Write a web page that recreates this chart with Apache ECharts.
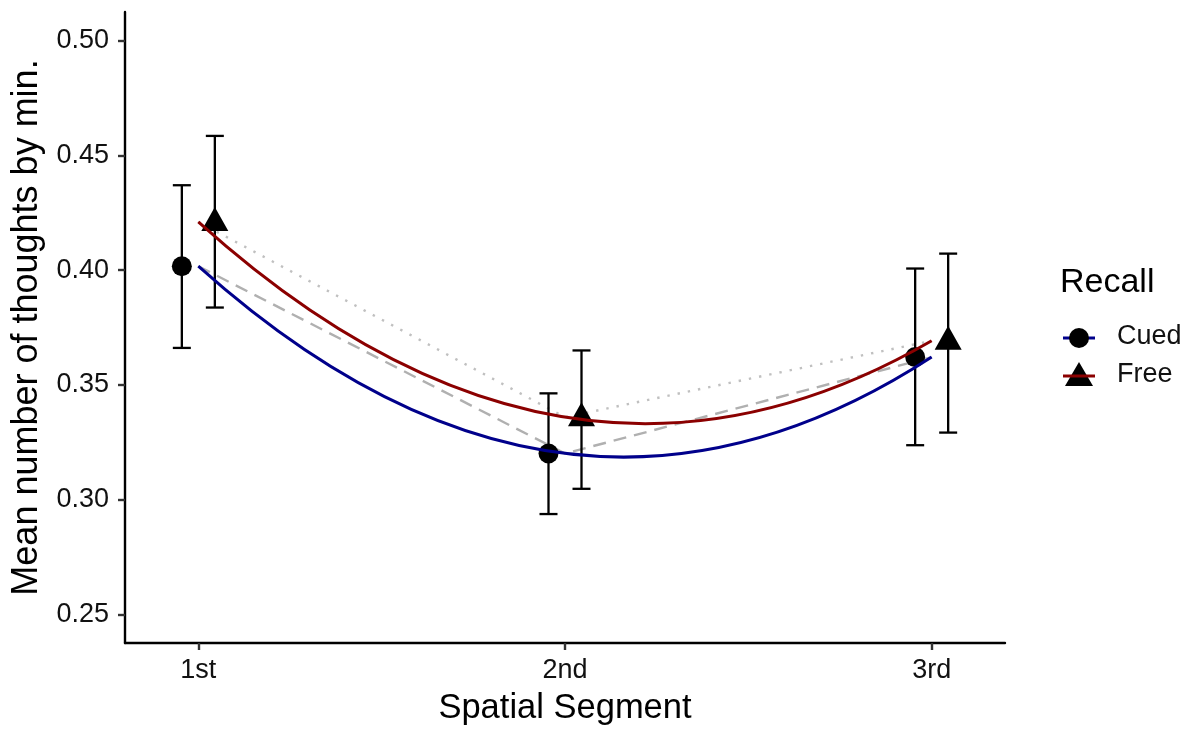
<!DOCTYPE html>
<html>
<head>
<meta charset="utf-8">
<script src="https://cdn.jsdelivr.net/npm/echarts@6/dist/echarts.min.js"></script>
<style>
  html, body { margin: 0; padding: 0; background: #fff; }
  #chart { width: 1190px; height: 731px; }
</style>
</head>
<body>
<div id="chart"></div>
<script>
// categories on the x axis (placed at 1, 2, 3)
var segments = ['1st', '2nd', '3rd'];
var segmentPos = [1, 2, 3];

// Cued recall: means and error bar ends
var cuedMean = [0.4017, 0.3201, 0.3621];
var cuedLow = [0.3661, 0.2937, 0.3237];
var cuedHigh = [0.4370, 0.3463, 0.4007];

// Free recall
var freeMean = [0.4210, 0.3359, 0.3692];
var freeLow = [0.3837, 0.3047, 0.3292];
var freeHigh = [0.4585, 0.3650, 0.4072];

var yTicks = [0.25, 0.30, 0.35, 0.40, 0.45, 0.50];
var dodge = 0.045;

var FONT = '"Liberation Sans", Arial, sans-serif';

function pts(means, shift) {
    return segmentPos.map(function (x, i) { return [x + shift, means[i]]; });
}
function bars(low, high, shift) {
    return segmentPos.map(function (x, i) { return [x + shift, low[i], high[i]]; });
}

// quadratic fit through the three means, drawn as a quadratic bezier
function curveSeries(name, means, color) {
    return {
        name: name,
        type: 'custom',
        silent: true,
        z: 5,
        data: [[segmentPos[1], means[1]]],
        renderItem: function (params, api) {
            var p0 = api.coord([segmentPos[0], means[0]]);
            var p2 = api.coord([segmentPos[2], means[2]]);
            var c = api.coord([segmentPos[1], 2 * means[1] - (means[0] + means[2]) / 2]);
            return {
                type: 'bezierCurve',
                shape: { x1: p0[0], y1: p0[1], x2: p2[0], y2: p2[1], cpx1: c[0], cpy1: c[1] },
                style: { stroke: color, lineWidth: 3, fill: null }
            };
        }
    };
}

function errorSeries(name, low, high) {
    return {
        name: name + ' err',
        type: 'custom',
        silent: true,
        z: 3,
        encode: { x: 0, y: [1, 2] },
        data: bars(low, high, name === 'Cued' ? -dodge : dodge),
        renderItem: function (params, api) {
            var top = api.coord([api.value(0), api.value(2)]);
            var bot = api.coord([api.value(0), api.value(1)]);
            var w = 9;
            var st = { stroke: '#000', lineWidth: 2.3 };
            return {
                type: 'group',
                children: [
                    { type: 'line', shape: { x1: top[0], y1: top[1], x2: bot[0], y2: bot[1] }, style: st },
                    { type: 'line', shape: { x1: top[0] - w, y1: top[1], x2: top[0] + w, y2: top[1] }, style: st },
                    { type: 'line', shape: { x1: bot[0] - w, y1: bot[1], x2: bot[0] + w, y2: bot[1] }, style: st }
                ]
            };
        }
    };
}

var chart = echarts.init(document.getElementById('chart'), null, { renderer: 'canvas' });

var option = {
    animation: false,
    backgroundColor: '#fff',
    grid: { left: 125, right: 185, top: 12, bottom: 84, containLabel: false },
    xAxis: {
        type: 'value',
        min: 0.8,
        max: 3.2,
        name: 'Spatial Segment',
        nameLocation: 'middle',
        nameGap: 48,
        nameTextStyle: { fontFamily: FONT, fontSize: 34.5, color: '#000' },
        axisLine: { show: true, onZero: false, lineStyle: { color: '#000', width: 2.4 } },
        axisTick: { show: true, customValues: segmentPos, length: 7, lineStyle: { color: '#333', width: 2.4 } },
        axisLabel: {
            customValues: segmentPos,
            margin: 14,
            fontFamily: FONT, fontSize: 27, color: '#111',
            formatter: function (v) { return segments[segmentPos.indexOf(v)]; }
        },
        splitLine: { show: false }
    },
    yAxis: {
        type: 'value',
        min: 0.2375,
        max: 0.5125,
        name: 'Mean number of thoughts by min.',
        nameLocation: 'middle',
        nameRotate: 90,
        nameGap: 80,
        nameTextStyle: { fontFamily: FONT, fontSize: 36, color: '#000' },
        axisLine: { show: true, onZero: false, lineStyle: { color: '#000', width: 2.4 } },
        axisTick: { show: true, customValues: yTicks, length: 7, lineStyle: { color: '#333', width: 2.4 } },
        axisLabel: {
            customValues: yTicks,
            margin: 16,
            fontFamily: FONT, fontSize: 27, color: '#111',
            formatter: function (v) { return v.toFixed(2); }
        },
        splitLine: { show: false }
    },
    series: [
        {
            name: 'Cued mean line',
            type: 'line',
            silent: true,
            z: 1,
            symbol: 'none',
            data: pts(cuedMean, 0),
            lineStyle: { color: '#b0b0b0', width: 2.4, type: [13, 8] }
        },
        {
            name: 'Free mean line',
            type: 'line',
            silent: true,
            z: 1,
            symbol: 'none',
            data: pts(freeMean, 0),
            lineStyle: { color: '#c0c0c0', width: 2.4, type: [2.4, 8] }
        },
        errorSeries('Cued', cuedLow, cuedHigh),
        errorSeries('Free', freeLow, freeHigh),
        {
            name: 'Cued',
            type: 'scatter',
            z: 4,
            symbol: 'circle',
            symbolSize: 20,
            itemStyle: { color: '#000', opacity: 1 },
            data: pts(cuedMean, -dodge)
        },
        {
            name: 'Free',
            type: 'scatter',
            z: 4,
            symbol: 'triangle',
            symbolSize: [27, 24],
            symbolOffset: [0, -3],
            itemStyle: { color: '#000', opacity: 1 },
            data: pts(freeMean, dodge)
        },
        curveSeries('Cued fit', cuedMean, '#00008b'),
        curveSeries('Free fit', freeMean, '#8b0000')
    ],
    graphic: [
        { type: 'text', left: 1060, top: 266, style: { text: 'Recall', font: '34px ' + FONT, fill: '#000' } },
        { type: 'line', shape: { x1: 1063, y1: 338, x2: 1095, y2: 338 }, style: { stroke: '#00008b', lineWidth: 3 } },
        { type: 'circle', shape: { cx: 1079, cy: 338, r: 10 }, style: { fill: '#000' } },
        { type: 'text', left: 1117, top: 323, style: { text: 'Cued', font: '27px ' + FONT, fill: '#111' } },
        { type: 'polygon', shape: { points: [[1079, 362], [1065, 386], [1093, 386]] }, style: { fill: '#000' } },
        { type: 'line', shape: { x1: 1063, y1: 376, x2: 1095, y2: 376 }, style: { stroke: '#8b0000', lineWidth: 3 } },
        { type: 'text', left: 1117, top: 361, style: { text: 'Free', font: '27px ' + FONT, fill: '#111' } }
    ]
};

chart.setOption(option);
</script>
</body>
</html>
